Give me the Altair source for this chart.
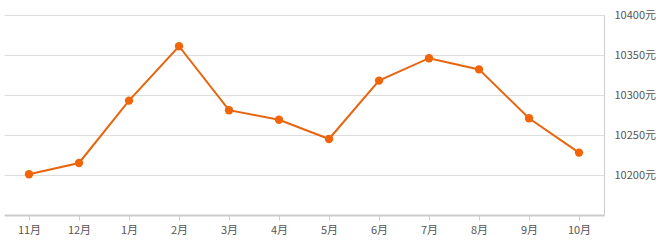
import altair as alt
import pandas as pd

months = ["11月", "12月", "1月", "2月", "3月", "4月", "5月", "6月", "7月", "8月", "9月", "10月"]
prices = [10201, 10215, 10293, 10361, 10281, 10269, 10245, 10318, 10346, 10332, 10271, 10228]
y_ticks = [10200, 10250, 10300, 10350, 10400]

df = pd.DataFrame({"month": months, "price": prices})

FONT = "Noto Sans CJK SC"

x = alt.X("month:N", sort=months, scale=alt.Scale(type="point", padding=0.5),
          axis=alt.Axis(title=None, labelAngle=0, domainColor="#cccccc", domainWidth=2,
                        tickColor="#cccccc", tickSize=5, labelPadding=4,
                        labelColor="#555555", labelFontSize=11, labelFont=FONT, grid=False))
y = alt.Y("price:Q", scale=alt.Scale(domain=[10150, 10400], nice=False, zero=False),
          axis=alt.Axis(title=None, orient="right", values=y_ticks,
                        labelExpr="datum.value + '元'", grid=True, gridColor="#dddddd",
                        domain=True, domainColor="#cccccc", ticks=False, labelPadding=10,
                        labelColor="#555555", labelFontSize=11, labelFont=FONT))

line = alt.Chart(df).mark_line(color="#e8650f", strokeWidth=2).encode(x=x, y=y)
pts = alt.Chart(df).mark_point(filled=True, color="#f26408", size=70, opacity=1).encode(x=x, y=y)

chart = (line + pts).properties(
    width=600, height=200,
    background="white",
    autosize=alt.AutoSizeParams(type="none"),
    padding={"left": 4, "top": 15, "right": 60, "bottom": 28},
).configure_view(strokeWidth=0)

chart.save("out.html", embed_options={"renderer": "svg", "actions": False})
